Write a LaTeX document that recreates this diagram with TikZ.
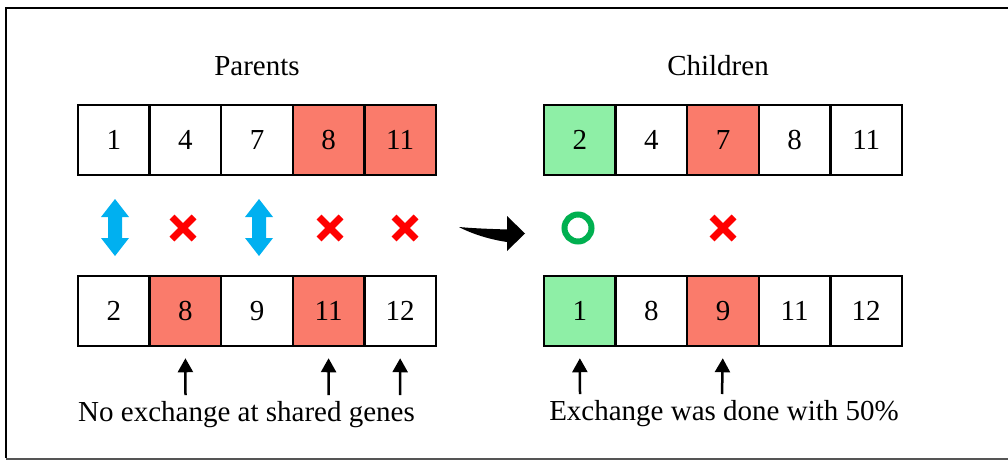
\documentclass[tikz,border=0pt]{standalone}
\usepackage{fontspec}
\setmainfont{Liberation Serif}
\usetikzlibrary{arrows.meta,calc}
\definecolor{salmonc}{HTML}{FA7B6B}
\definecolor{greenc}{HTML}{8EEFA6}
\definecolor{bluec}{HTML}{00B0F0}
\definecolor{redc}{HTML}{FF0000}
\definecolor{ringc}{HTML}{00B050}
\definecolor{framegray}{HTML}{555555}
\begin{document}
\begin{tikzpicture}[x=1pt,y=-1pt,
  txt/.style={font=\fontsize{29}{34}\selectfont,inner sep=0pt},
  cell/.style={draw=black,line width=2.5pt,minimum width=71.6pt,minimum height=70pt,inner sep=0pt,font=\fontsize{29}{34}\selectfont,anchor=center},
  uparrow/.style={line width=2.5pt,-{Triangle[width=15pt,length=14pt]},shorten >=11pt},
  crossline/.style={redc,line width=7pt},
  pics/dblarrow/.style={code={
    \fill[bluec] (0,-28.5) -- (14,-10.5) -- (7,-10.5) -- (7,10.5) -- (14,10.5) -- (0,28.5)
      -- (-14,10.5) -- (-7,10.5) -- (-7,-10.5) -- (-14,-10.5) -- cycle;}},
  pics/redcross/.style={code={
    \draw[crossline] (-11,-11) -- (11,11);
    \draw[crossline] (-11,11) -- (11,-11);}}
]
\useasboundingbox (0,0) rectangle (1008,460);
% frame
\draw[line width=2pt] (1012,8) -- (6,8) -- (6,458);
\draw[framegray,line width=1.5pt] (6,459) -- (1012,459);

% titles
\node[txt,anchor=base] (tparents) at (257,75) {Parents};
\node[txt,anchor=base] (tchildren) at (718,75) {Children};

% parent rows
\foreach \v/\f [count=\i] in {1/white,4/white,7/white,8/salmonc,11/salmonc}
  \node[cell,fill=\f] (pa\i) at ({78+35.8+(\i-1)*71.6},140) {\v};
\foreach \v/\f [count=\i] in {2/white,8/salmonc,9/white,11/salmonc,12/white}
  \node[cell,fill=\f] (pb\i) at ({78+35.8+(\i-1)*71.6},311) {\v};
% children rows
\foreach \v/\f [count=\i] in {2/greenc,4/white,7/salmonc,8/white,11/white}
  \node[cell,fill=\f] (ca\i) at ({544+35.8+(\i-1)*71.6},140) {\v};
\foreach \v/\f [count=\i] in {1/greenc,8/white,9/salmonc,11/white,12/white}
  \node[cell,fill=\f] (cb\i) at ({544+35.8+(\i-1)*71.6},311) {\v};

% middle symbols
\pic at (115,227.5) {dblarrow};
\pic at (183,228) {redcross};
\pic at (259,227.5) {dblarrow};
\pic at (330,228) {redcross};
\pic at (405,228) {redcross};
\fill (459,227) .. controls (475,228.5) and (493,229) .. (507,229.5)
  -- (507,216) -- (525,233.5) -- (507,251) -- (507,242)
  .. controls (490,239.5) and (472,234) .. (459,227) -- cycle;
\draw[ringc,line width=6pt] (578,228) circle (13.5);
\pic at (723,228) {redcross};

% arrows under rows
\coordinate (ap2) at (185.5,395);
\coordinate (ap4) at (328.5,395);
\coordinate (ap5) at (400,395);
\coordinate (ac1) at (580,394);
\coordinate (ac3) at (722,394);
\draw[uparrow] (ap2) -- (pb2.south);
\draw[uparrow] (ap4) -- (pb4.south);
\draw[uparrow] (ap5) -- (pb5.south);
\draw[uparrow] (ac1) -- (cb1.south);
\draw[uparrow] (ac3) -- (cb3.south);

% captions
\node[txt,anchor=base] (capl) at (246.5,421) {No exchange at shared genes};
\node[txt,anchor=base] (capr) at (724,420) {Exchange was done with 50\%};
\end{tikzpicture}
\end{document}
